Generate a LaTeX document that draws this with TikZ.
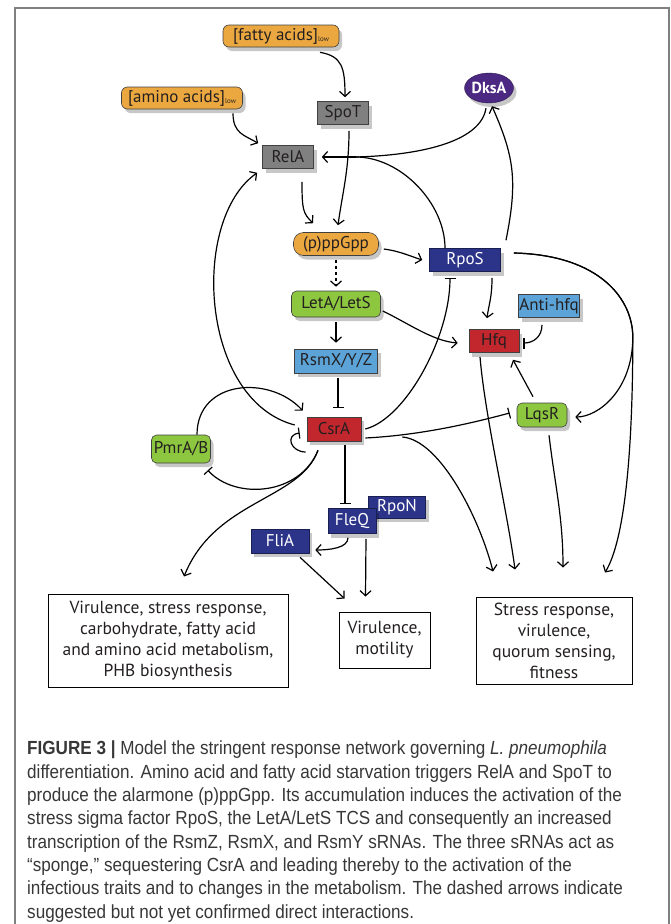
\documentclass[tikz,border=0pt]{standalone}
\usepackage{fontspec}
\setmainfont{PT Sans}
\newfontfamily\capfont[FakeStretch=0.9]{Liberation Sans}
\usetikzlibrary{arrows.meta,shadows,shapes.geometric}

\definecolor{ink}{RGB}{35,31,32}
\definecolor{orng}{RGB}{236,168,64}
\definecolor{grayb}{RGB}{128,128,128}
\definecolor{navy}{RGB}{43,52,137}
\definecolor{purp}{RGB}{75,40,130}
\definecolor{lblue}{RGB}{92,164,216}
\definecolor{redb}{RGB}{193,39,45}
\definecolor{grn}{RGB}{141,198,63}
\definecolor{framec}{RGB}{128,128,128}
\definecolor{captc}{RGB}{55,55,55}

\tikzset{
  box/.style={draw=black!75, line width=0.6pt, inner sep=0pt, text=ink,
    font=\fontsize{17}{17}\selectfont,
    drop shadow={shadow xshift=3pt, shadow yshift=-4pt, opacity=0.22, fill=black}},
  lipid/.style={box, fill=orng, rounded corners=6pt},
  kinase/.style={box, fill=grayb},
  sigma/.style={box, fill=navy, text=white, draw=navy!60!black},
  srna/.style={box, fill=lblue},
  ctrl/.style={box, fill=redb},
  tcs/.style={box, fill=grn, rounded corners=5pt},
  outbox/.style={draw=black, line width=1pt, inner sep=0pt, align=center,
    font=\fontsize{17.5}{21}\selectfont, text=ink},
  frame/.style={draw=framec, line width=1.5pt},
  link/.style={draw=black, line width=1.2pt},
  act/.style={link, -{Straight Barb[length=5pt,width=11pt]}},
  inh/.style={link, -{Bar[width=11pt]}},
}

\newcommand{\low}{\raisebox{-1pt}{\fontsize{7}{7}\selectfont low}}

\begin{document}
\begin{tikzpicture}[x=1pt,y=-1pt]
\useasboundingbox (0,0) rectangle (670,924);

% frame round figure and caption
\draw[frame] (15,924) -- (15,8) -- (669,8) -- (669,924);

% nodes
\node[lipid, minimum width=116pt, minimum height=22pt] (fatty) at (281,36) {[fatty acids]\low};
\node[lipid, minimum width=121pt, minimum height=22pt] (amino) at (182,98) {[amino acids]\low};
\node[kinase, minimum width=51pt, minimum height=23pt] (spot) at (343,113) {SpoT};
\node[kinase, minimum width=51pt, minimum height=23pt] (rela) at (288,157) {RelA};
\node[ellipse, fill=purp, draw=purp!60!black, text=white, inner sep=0pt,
  minimum width=49pt, minimum height=30pt, font=\fontsize{16}{16}\selectfont\bfseries,
  drop shadow={shadow xshift=3pt, shadow yshift=-4pt, opacity=0.22, fill=black}] (dksa) at (489,88) {DksA};
\node[lipid, rounded corners=10pt, minimum width=85pt, minimum height=23pt] (ppgpp) at (336,244) {(p)ppGpp};
\node[sigma, minimum width=71pt, minimum height=23pt] (rpos) at (465,260) {RpoS};
\node[tcs, minimum width=89pt, minimum height=26pt] (let) at (336,304) {LetA/LetS};
\node[srna, minimum width=61pt, minimum height=23pt] (antihfq) at (549,306) {Anti-hfq};
\node[ctrl, minimum width=50pt, minimum height=23pt] (hfq) at (494,341) {Hfq};
\node[srna, minimum width=83pt, minimum height=24pt] (rsm) at (336,361) {RsmX/Y/Z};
\node[ctrl, minimum width=54pt, minimum height=24pt] (csra) at (334,429) {CsrA};
\node[tcs, minimum width=59pt, minimum height=28pt] (pmr) at (181,449) {PmrA/B};
\node[tcs, minimum width=50pt, minimum height=24pt] (lqsr) at (542,415) {LqsR};
\node[sigma, minimum width=57pt, minimum height=22pt] (rpon) at (397,507) {RpoN};
\node[sigma, minimum width=48pt, minimum height=25pt] (fleq) at (352,521) {FleQ};
\node[sigma, minimum width=58pt, minimum height=24pt] (flia) at (280,541) {FliA};

\node[outbox, minimum width=240pt, minimum height=93pt] (leftbox) at (168,640.5)
  {Virulence, stress response,\\ carbohydrate, fatty acid\\ and amino acid metabolism,\\ PHB biosynthesis};
\node[outbox, minimum width=91pt, minimum height=56pt] (midbox) at (384.5,640)
  {Virulence,\\ motility};
\node[outbox, minimum width=156pt, minimum height=87pt] (rightbox) at (554,640.5)
  {Stress response,\\ virulence,\\ quorum sensing,\\ fitness};

% branch points
\coordinate (jrel) at ([xshift=42pt]rela.east);
\coordinate (jrpos) at ([xshift=132pt,yshift=-77pt]rpos.east);

% starvation signals
\draw[act] ([xshift=39pt,yshift=-5pt]fatty.south) .. controls +(22,4) and +(0,-30) .. ([xshift=2pt,yshift=4pt]spot.north);
\draw[act] ([xshift=51pt,yshift=-4pt]amino.south) .. controls +(0,20) and +(-14,-8) .. ([xshift=-4pt,yshift=2pt]rela.north west);
\draw[act] ([xshift=6pt,yshift=-6pt]spot.south) .. controls +(0,40) and +(4,-30) .. ([xshift=2pt,yshift=7pt]ppgpp.north);
\draw[act] ([xshift=14pt,yshift=-13pt]rela.south) .. controls +(0,28) and +(-10,-10) .. ([xshift=-23pt,yshift=9pt]ppgpp.north);

% feedback onto RelA
\draw[link] ([xshift=-3pt,yshift=-5pt]dksa.south) .. controls +(-5,32) and +(70,-2) .. (jrel);
\draw[link] ([xshift=-20pt]rpos.north) .. controls +(0,-45) and +(45,0) .. (jrel);
\draw[act] (jrel) -- ([xshift=8pt]rela.east);
\draw[act] ([xshift=41pt,yshift=8pt]rpos.north) .. controls +(12,-60) and +(22,50) .. ([xshift=3pt,yshift=-3pt]dksa.south);

% alarmone downstream
\draw[act] ([xshift=5pt,yshift=-5pt]ppgpp.east) .. controls +(15,2) and +(-15,-5) .. ([xshift=-7pt]rpos.west);
\draw[act, dashed] ([yshift=-4pt]ppgpp.south) -- ([yshift=4pt]let.north);
\draw[act] ([yshift=-5pt]let.south) -- ([yshift=6pt]rsm.north);
\draw[act] ([xshift=2pt,yshift=-7pt]let.east) .. controls +(25,12) and +(-25,-2) .. ([xshift=-11pt,yshift=-2pt]hfq.west);
\draw[act] ([xshift=27pt,yshift=-6pt]rpos.south) .. controls +(0,20) and +(2,-15) .. ([xshift=-7pt,yshift=11pt]hfq.north);
\draw[inh] ([xshift=-7pt,yshift=-7pt]antihfq.south) .. controls +(0,12) and +(10,0) .. ([xshift=4pt,yshift=-2pt]hfq.east);
\draw[inh] ([xshift=2pt,yshift=-5pt]rsm.south) -- ([xshift=4pt,yshift=9pt]csra.north);

% CsrA targets
\draw[inh] ([xshift=4pt]csra.east) .. controls +(40,-10) and +(0,60) .. ([xshift=-15pt,yshift=-6pt]rpos.south);
\draw[act] ([xshift=-12pt,yshift=4pt]csra.west) .. controls +(-95,-25) and +(-67,47) .. ([xshift=-5pt,yshift=-4pt]rela.south west);
\draw[act] ([xshift=16pt]pmr.north) .. controls +(0,-55) and +(-33,-36) .. ([xshift=-4pt,yshift=6pt]csra.north west);
\draw[inh] ([xshift=-1pt,yshift=-23pt]csra.west) .. controls +(-15,0) and +(-15,2) .. ([xshift=-7pt,yshift=-4pt]csra.west);
\draw[inh] ([xshift=-16pt,yshift=-9pt]csra.south) .. controls +(-18,45) and +(28,30) .. ([xshift=-3pt,yshift=-7pt]pmr.south east);
\draw[act] ([xshift=-16pt,yshift=-9pt]csra.south) .. controls +(-18,50) and +(31,-77) .. ([xshift=16pt,yshift=17pt]leftbox.north);
\draw[inh] ([xshift=11pt,yshift=-4pt]csra.south) -- ([xshift=-7pt,yshift=4pt]fleq.north);
\draw[inh] ([xshift=4pt,yshift=-9pt]csra.east) .. controls +(60,-3) and +(-30,8) .. ([xshift=-7pt,yshift=2pt]lqsr.west);
\draw[act] ([xshift=41pt,yshift=-8pt]csra.east) .. controls +(38,3) and +(-13,-52) .. ([xshift=-61pt,yshift=25pt]rightbox.north);

% Hfq, LqsR and RpoS outputs
\draw[act] ([xshift=-14pt,yshift=-4pt]hfq.south) .. controls +(5,60) and +(-8,-60) .. ([xshift=-39pt,yshift=27pt]rightbox.north);
\draw[act] ([xshift=-9pt,yshift=6pt]lqsr.north) -- ([xshift=19pt,yshift=-7pt]hfq.south);
\draw[act] ([xshift=7pt,yshift=-8pt]lqsr.south) .. controls +(6,50) and +(0,-50) .. ([xshift=9pt,yshift=29pt]rightbox.north);
\draw[act] ([xshift=13pt,yshift=7pt]rpos.east) .. controls +(87,2) and +(0,-37) .. (jrpos)
  .. controls +(0,53) and +(23,0) .. ([xshift=8pt,yshift=-2pt]lqsr.east);
\draw[act] ([xshift=13pt,yshift=7pt]rpos.east) .. controls +(87,2) and +(0,-37) .. (jrpos)
  .. controls +(0,113) and +(20,-33) .. ([xshift=51pt,yshift=24pt]rightbox.north);

% flagellar branch
\draw[act] ([xshift=-4pt,yshift=-4pt]fleq.south) .. controls +(0,10) and +(15,0) .. ([xshift=6pt,yshift=-9pt]flia.east);
\draw[act] ([xshift=14pt,yshift=-5pt]fleq.south) -- ([xshift=-19pt,yshift=15pt]midbox.north);
\draw[act] ([xshift=20pt,yshift=-4pt]flia.south) -- ([xshift=-40pt,yshift=13pt]midbox.north);

% caption
\node[anchor=north west, inner sep=0pt, align=left, text=captc,
  font=\capfont\fontsize{19}{23.3}\selectfont] (caption) at (27,741)
  {\textbf{FIGURE 3 |} Model the stringent response network governing \textit{L. pneumophila}\\
   differentiation. Amino acid and fatty acid starvation triggers RelA and SpoT to\\
   produce the alarmone (p)ppGpp. Its accumulation induces the activation of the\\
   stress sigma factor RpoS, the LetA/LetS TCS and consequently an increased\\
   transcription of the RsmZ, RsmX, and RsmY sRNAs. The three sRNAs act as\\
   “sponge,” sequestering CsrA and leading thereby to the activation of the\\
   infectious traits and to changes in the metabolism. The dashed arrows indicate\\
   suggested but not yet confirmed direct interactions.};
\end{tikzpicture}
\end{document}
